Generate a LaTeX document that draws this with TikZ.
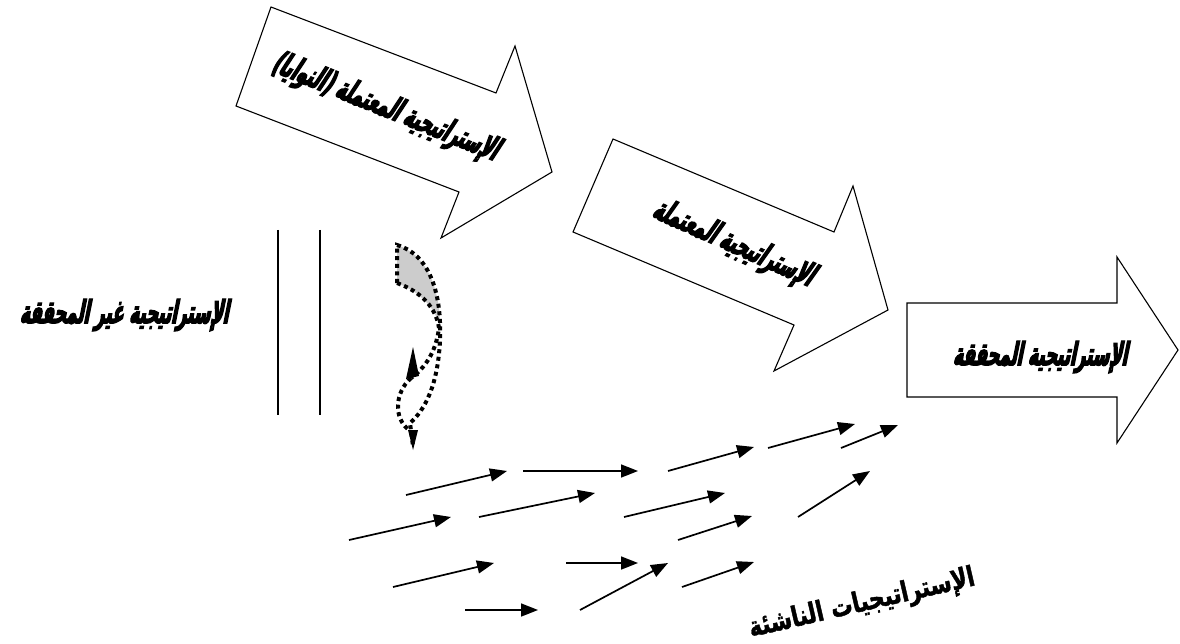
\documentclass[tikz,border=0pt]{standalone}
\usepackage{fontspec}
\usetikzlibrary{arrows.meta}
\TeXXeTstate=1
\newfontfamily\arabicheavy[Script=Arabic,FakeSlant=0.2,FakeBold=4,FakeStretch=0.52]{DejaVu Sans Bold}
\newfontfamily\arabicbold[Script=Arabic,FakeStretch=0.78,FakeBold=1.5]{DejaVu Sans Bold}
\begin{document}
\begin{tikzpicture}[x=1pt,y=-1pt,
  blockarrow/.style={draw=black,line width=1.1pt,fill=white,line join=miter},
  heavytext/.style={font=\arabicheavy\fontsize{32}{36}\selectfont,inner sep=0pt},
  smallarrow/.style={line width=1.7pt,-{Triangle[length=17pt,width=13pt]}},
  dotline/.style={line width=4pt,dash pattern=on 4pt off 3.6pt},
  vline/.style={line width=1.2pt}]
\useasboundingbox (0,0) rectangle (1180,644);

% block arrow 1 (intended)
\draw[blockarrow] (271,7) -- (496,93) -- (515,46) -- (552,172) -- (441,238) -- (459,192) -- (236,106) -- cycle;
\node[heavytext,rotate=-22] (t1) at (385,108) {\beginR الإستراتيجية المعتملة (النوايا)\endR};

% block arrow 2 (deliberate)
\draw[blockarrow] (613,139) -- (834,232) -- (853,186) -- (888,310) -- (774,371) -- (794,325) -- (573,232) -- cycle;
\node[heavytext,rotate=-24] (t2) at (733,244) {\beginR الإستراتيجية المعتملة\endR};

% block arrow 3 (realized)
\draw[blockarrow] (907,303) -- (1117,303) -- (1117,257) -- (1178,350) -- (1117,443) -- (1117,397) -- (907,397) -- cycle;
\node[heavytext] (t3) at (1040,357) {\beginR الإستراتيجية المحققة\endR};

% unrealized strategy
\node[heavytext] (t4) at (124,315) {\beginR الإستراتيجية غير المحققة\endR};
\coordinate (l1a) at (278,230); \coordinate (l1b) at (278,415);
\coordinate (l2a) at (320,230); \coordinate (l2b) at (320,415);
\draw[vline] (l1a) -- (l1b);
\draw[vline] (l2a) -- (l2b);

% dotted curved arrow
\fill[gray!40] (397,245) .. controls (425,254) and (440,285) .. (440,328)
   .. controls (436,308) and (420,292) .. (397,283) -- cycle;
\draw[dotline] (397,283) -- (397,245) .. controls (428,254) and (442,290) .. (440,340)
   .. controls (438,385) and (425,410) .. (410,423) -- (413,446);
\draw[dotline] (397,283) .. controls (422,292) and (436,308) .. (439,328)
   .. controls (436,352) and (425,368) .. (411,378);
\draw[dotline] (411,378) .. controls (395,392) and (393,418) .. (409,430);
\fill (413,347) -- (419,376) -- (406,379) -- cycle;
\fill (408,430) -- (418,430) -- (413,450) -- cycle;

% emergent strategies arrows
\foreach \i/\ax/\ay/\bx/\by in {
  1/406/495/507/471, 2/523/471/638/471, 3/668/471/754/447, 4/768/448/855/424,
  5/841/448/898/425, 6/349/540/451/517, 7/479/517/595/493, 8/624/517/725/493,
  9/678/540/752/516, 10/798/517/870/471, 11/393/587/494/563, 12/566/563/638/563,
  13/580/610/668/563, 14/682/587/754/562, 15/465/610/538/610}{
  \coordinate (s\i) at (\ax,\ay);
  \coordinate (e\i) at (\bx,\by);
  \draw[smallarrow] (s\i) -- (e\i);
}

\node[font=\arabicbold\fontsize{28}{32}\selectfont,rotate=13,inner sep=0pt] (t5) at (862,604) {\beginR الإستراتيجيات الناشئة\endR};
\end{tikzpicture}
\end{document}
